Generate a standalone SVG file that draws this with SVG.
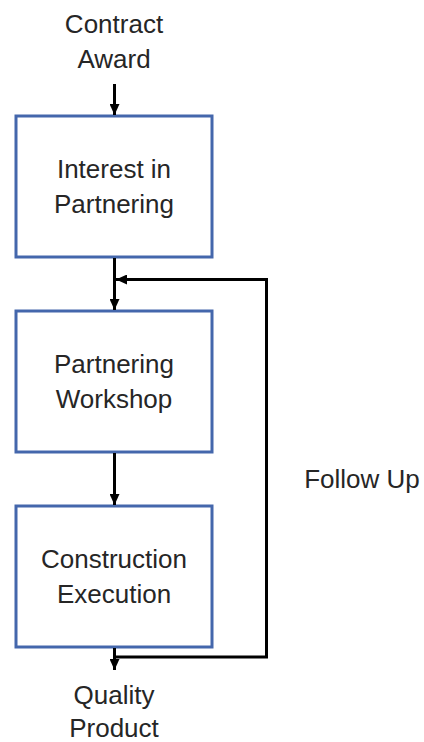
<svg xmlns="http://www.w3.org/2000/svg" width="424" height="742" viewBox="0 0 424 742">
<style>
.box{fill:#fff;stroke:#4467ac;stroke-width:3}
.t{font-family:"Liberation Sans",Arial,sans-serif;font-size:26px;fill:#262626;text-anchor:middle}
.c{fill:none;stroke:#000;stroke-width:3}
</style>
<defs>
<marker id="ah" markerUnits="userSpaceOnUse" markerWidth="11" markerHeight="10" viewBox="0 0 11 10" refX="11" refY="5" orient="auto">
<path d="M0,0 L11,5 L0,10 z" fill="#000"/>
</marker>
</defs>
<rect width="424" height="742" fill="#fff"/>
<g id="contract-award">
<text class="t" x="114" y="33">Contract</text>
<text class="t" x="114" y="68">Award</text>
</g>
<g id="interest">
<rect class="box" x="16" y="116" width="196" height="141"/>
<text class="t" x="114" y="178">Interest in</text>
<text class="t" x="114" y="213">Partnering</text>
</g>
<g id="workshop">
<rect class="box" x="16" y="311" width="196" height="141"/>
<text class="t" x="114" y="373">Partnering</text>
<text class="t" x="114" y="408">Workshop</text>
</g>
<g id="execution">
<rect class="box" x="16" y="506" width="196" height="141"/>
<text class="t" x="114" y="568">Construction</text>
<text class="t" x="114" y="603">Execution</text>
</g>
<g id="quality-product">
<text class="t" x="114" y="704">Quality</text>
<text class="t" x="114" y="737">Product</text>
</g>
<g id="follow-up">
<text class="t" x="362" y="488">Follow Up</text>
</g>
<g id="connectors">
<line class="c" x1="114.5" y1="84" x2="114.5" y2="115" marker-end="url(#ah)"/>
<line class="c" x1="114.5" y1="258" x2="114.5" y2="310" marker-end="url(#ah)"/>
<line class="c" x1="114.5" y1="453" x2="114.5" y2="505" marker-end="url(#ah)"/>
<line class="c" x1="114.5" y1="648" x2="114.5" y2="670" marker-end="url(#ah)"/>
<polyline class="c" points="114.5,657 266.5,657 266.5,279.5 116,279.5" marker-end="url(#ah)"/>
</g>
</svg>
